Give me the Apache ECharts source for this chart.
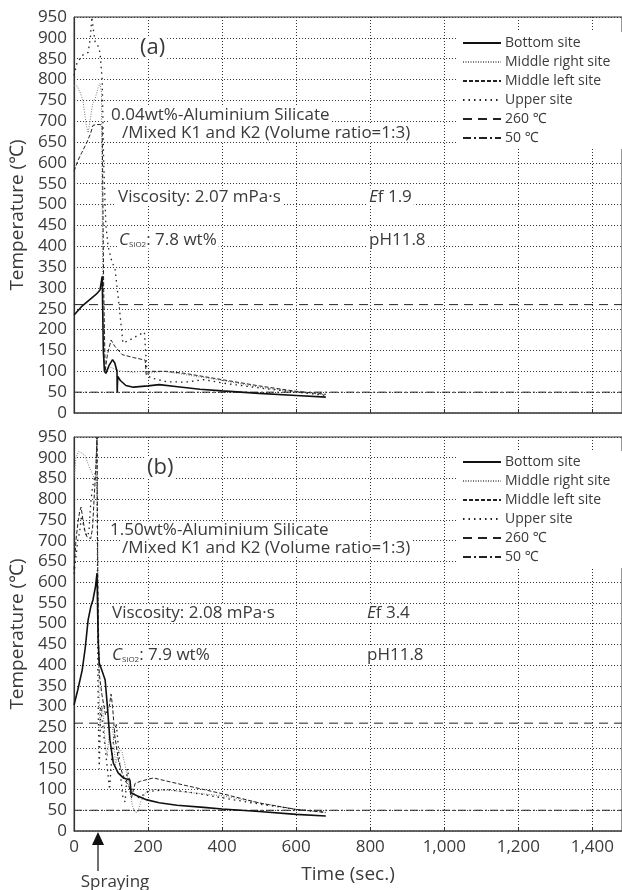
<!DOCTYPE html>
<html>
<head>
<meta charset="utf-8">
<script src="https://cdn.jsdelivr.net/npm/echarts@6/dist/echarts.min.js"></script>
<style>
  html, body { margin: 0; padding: 0; background: #fff; }
  #chart { width: 622px; height: 890px; }
</style>
</head>
<body>
<div id="chart"></div>
<script>
// series names
var names = ['Bottom site', 'Middle right site', 'Middle left site', 'Upper site', '260 \u2103', '50 \u2103']
var xTicks = [0, 200, 400, 600, 800, 1000, 1200, 1400]

// (a) 0.04wt% -- [time (sec.), temperature]
var bottomA = [[0, 235], [20, 255], [40, 270], [60, 285], [70, 295], [76, 328], [79, 150], [82, 100], [86, 95], [95, 115], [104, 128], [110, 120], [116, 100], [116.5, 50], [118, 88], [125, 78], [140, 66], [160, 62], [200, 65], [230, 68], [280, 63], [340, 57], [400, 53], [500, 47], [600, 42], [680, 38]]
var middleRightA = [[0, 785], [8, 785], [16, 770], [24, 750], [33, 690], [38, 672], [43, 700], [50, 740], [57, 755], [65, 780], [70, 790], [74, 770], [78, 250], [82, 100], [90, 105], [100, 110], [110, 105], [130, 100], [160, 98], [190, 100], [200, 95], [240, 100], [300, 92], [400, 78], [500, 62], [600, 50], [680, 44]]
var middleLeftA = [[0, 580], [10, 605], [21, 625], [35, 650], [45, 672], [51, 690], [60, 692], [70, 692], [76, 690], [80, 300], [84, 100], [90, 140], [100, 175], [110, 160], [130, 140], [160, 133], [192, 127], [195, 90], [205, 100], [250, 100], [300, 95], [400, 80], [500, 65], [600, 52], [680, 45]]
var upperA = [[0, 810], [8, 840], [16, 850], [25, 860], [38, 865], [44, 900], [48, 950], [52, 920], [57, 890], [65, 880], [70, 865], [76, 800], [80, 600], [86, 450], [92, 400], [100, 370], [111, 343], [122, 255], [132, 168], [150, 175], [170, 185], [190, 194], [196, 110], [205, 85], [250, 75], [300, 74], [350, 80], [400, 72], [500, 60], [600, 50], [680, 42]]

// (b) 1.50wt%
var bottomB = [[0, 304], [10, 340], [22, 388], [30, 440], [38, 509], [45, 540], [51, 557], [58, 590], [62, 622], [65, 460], [68, 405], [76, 385], [84, 364], [90, 300], [97, 219], [106, 164], [119, 140], [133, 128], [151, 123], [154, 92], [170, 85], [197, 75], [230, 68], [278, 62], [350, 57], [400, 53], [500, 47], [600, 40], [680, 36]]
var middleRightB = [[0, 850], [5, 900], [12, 915], [20, 912], [30, 905], [40, 880], [50, 860], [55, 850], [60, 860], [64, 700], [66, 400], [70, 250], [76, 300], [80, 270], [85, 200], [90, 180], [96, 250], [104, 250], [112, 160], [122, 200], [130, 190], [140, 150], [150, 100], [158, 60], [165, 45], [172, 45], [180, 70], [195, 95], [210, 100], [260, 98], [320, 92], [400, 85], [500, 68], [600, 52], [680, 44]]
var middleLeftB = [[0, 630], [5, 700], [10, 740], [15, 770], [19, 781], [24, 750], [30, 720], [35, 709], [45, 705], [50, 730], [55, 815], [58, 860], [62, 950], [64, 600], [68, 380], [75, 330], [85, 280], [95, 300], [100, 330], [104, 300], [110, 230], [115, 200], [120, 170], [130, 140], [140, 118], [148, 110], [155, 80], [165, 115], [180, 120], [214, 128], [300, 110], [400, 90], [503, 67], [600, 52], [680, 45]]
var upperB = [[0, 620], [5, 660], [10, 700], [15, 720], [20, 760], [25, 740], [30, 720], [35, 710], [40, 720], [45, 790], [50, 830], [55, 850], [60, 880], [62, 950], [63, 700], [64, 400], [66, 250], [68, 150], [72, 300], [78, 250], [84, 200], [90, 150], [96, 100], [102, 180], [108, 230], [114, 260], [120, 200], [126, 130], [132, 80], [138, 70], [144, 150], [150, 120], [160, 90], [175, 80], [200, 95], [250, 100], [300, 95], [350, 88], [400, 80], [500, 65], [600, 52], [680, 45]]

// reference lines
var line260 = [[0, 260], [1480, 260]]
var line50 = [[0, 50], [1480, 50]]

var FONT = '"Open Sans", "Noto Sans", sans-serif'
var TXT = '#3a3a3a'

var styles = [
  { color: '#111', width: 1.6, type: 'solid' },
  { color: '#777', width: 1, type: [1, 1.5] },
  { color: '#222', width: 1, type: [4, 2] },
  { color: '#222', width: 1.3, type: [1.5, 4] },
  { color: '#222', width: 1, type: [9, 6] },
  { color: '#222', width: 1, type: [8, 3, 2, 3] }
]

function makeSeries(idx, sets) {
  return sets.map(function(d, i) {
    return {
      name: names[i],
      type: 'line',
      xAxisIndex: idx,
      yAxisIndex: idx,
      data: d,
      symbol: 'none',
      animation: false,
      lineStyle: styles[i],
      itemStyle: { color: styles[i].color },
      z: i === 0 ? 5 : 3
    }
  })
}

function xAxis(idx, showLabels) {
  return {
    type: 'value',
    gridIndex: idx,
    min: 0,
    max: 1480,
    interval: 200,
    name: showLabels ? 'Time (sec.)' : '',
    nameLocation: 'middle',
    nameGap: 34,
    nameTextStyle: { fontFamily: FONT, fontSize: 19, color: TXT },
    axisLine: { show: true, lineStyle: { color: '#555', width: 1.5 } },
    axisTick: { show: true, inside: true, length: 4, lineStyle: { color: '#333' } },
    axisLabel: {
      show: showLabels,
      showMaxLabel: false,
      margin: 8,
      fontFamily: FONT,
      fontSize: 17,
      color: TXT,
      formatter: function(v) { return v.toLocaleString('en-US') }
    },
    splitLine: { show: true, lineStyle: { color: '#333', type: [1, 2], width: 1 } }
  }
}

function yAxis(idx) {
  return {
    type: 'value',
    gridIndex: idx,
    min: 0,
    max: 950,
    interval: 50,
    name: 'Temperature (\u2103)',
    nameLocation: 'middle',
    nameGap: 42,
    nameTextStyle: { fontFamily: FONT, fontSize: 19, color: TXT },
    axisLine: { show: true, lineStyle: { color: '#333', width: 1.2 } },
    axisTick: { show: false },
    axisLabel: { margin: 7, fontFamily: FONT, fontSize: 17, color: TXT },
    splitLine: { show: true, lineStyle: { color: '#333', type: [1, 2], width: 1 } }
  }
}

function legend(top) {
  return {
    data: names,
    left: 456,
    top: top,
    orient: 'vertical',
    itemWidth: 38,
    itemHeight: 14,
    itemGap: 5,
    padding: [4, 30, 4, 6],
    backgroundColor: '#fff',
    itemStyle: { opacity: 0 },
    textStyle: { fontFamily: FONT, fontSize: 14, color: TXT, padding: [0, 0, 0, -1] },
    selectedMode: false
  }
}

function label(x, y, text, size, extra) {
  var style = {
    text: text,
    font: (size || 17) + 'px ' + FONT,
    fill: TXT,
    align: 'left',
    verticalAlign: 'middle',
    backgroundColor: '#fff',
    padding: [0, 2]
  }
  if (extra) Object.assign(style, extra)
  return { type: 'text', x: x, y: y, z: 20, style: style }
}

var richC = {
  c: { fontFamily: FONT, fontSize: 17, fontStyle: 'italic', color: TXT },
  s: { fontFamily: FONT, fontSize: 8, color: TXT, verticalAlign: 'bottom', padding: [9, 0, 0, 0] },
  n: { fontFamily: FONT, fontSize: 17, color: TXT },
  i: { fontFamily: FONT, fontSize: 17, fontStyle: 'italic', color: TXT }
}

var graphics = [
  label(138, 48, '(a)', 22),
  label(109, 115, '0.04wt%-Aluminium Silicate'),
  label(120, 133, '/Mixed K1 and K2 (Volume ratio=1:3)'),
  label(116, 197, 'Viscosity: 2.07 mPa\u00b7s'),
  label(367, 197, '{i|E}{n|f 1.9}', 17, { rich: richC }),
  label(117, 240, '{c|C}{s|SiO2}{n|: 7.8 wt%}', 17, { rich: richC }),
  label(367, 240, 'pH11.8'),

  label(145, 468, '(b)', 22),
  label(108, 530, '1.50wt%-Aluminium Silicate'),
  label(120, 548, '/Mixed K1 and K2 (Volume ratio=1:3)'),
  label(110, 613, 'Viscosity: 2.08 mPa\u00b7s'),
  label(365, 613, '{i|E}{n|f 3.4}', 17, { rich: richC }),
  label(110, 655, '{c|C}{s|SiO2}{n|: 7.9 wt%}', 17, { rich: richC }),
  label(365, 655, 'pH11.8'),

  // spraying arrow
  { type: 'polygon', z: 20, shape: { points: [[98, 832], [92, 845], [104, 845]] }, style: { fill: '#111' } },
  { type: 'line', z: 20, shape: { x1: 98, y1: 844, x2: 98, y2: 871 }, style: { stroke: '#111', lineWidth: 1.2 } },
  { type: 'text', z: 20, x: 115, y: 882, style: { text: 'Spraying', font: '17px ' + FONT, fill: TXT, align: 'center', verticalAlign: 'middle' } }
]

var chart = echarts.init(document.getElementById('chart'))
chart.setOption({
  animation: false,
  grid: [
    { left: 74, right: 0, top: 17, height: 396, show: true, borderColor: '#333', borderWidth: 1 },
    { left: 74, right: 0, top: 437, height: 394, show: true, borderColor: '#333', borderWidth: 1 }
  ],
  xAxis: [xAxis(0, false), xAxis(1, true)],
  yAxis: [yAxis(0), yAxis(1)],
  legend: [legend(32), legend(451)],
  graphic: graphics,
  series: makeSeries(0, [bottomA, middleRightA, middleLeftA, upperA, line260, line50])
    .concat(makeSeries(1, [bottomB, middleRightB, middleLeftB, upperB, line260, line50]))
})
</script>
</body>
</html>
